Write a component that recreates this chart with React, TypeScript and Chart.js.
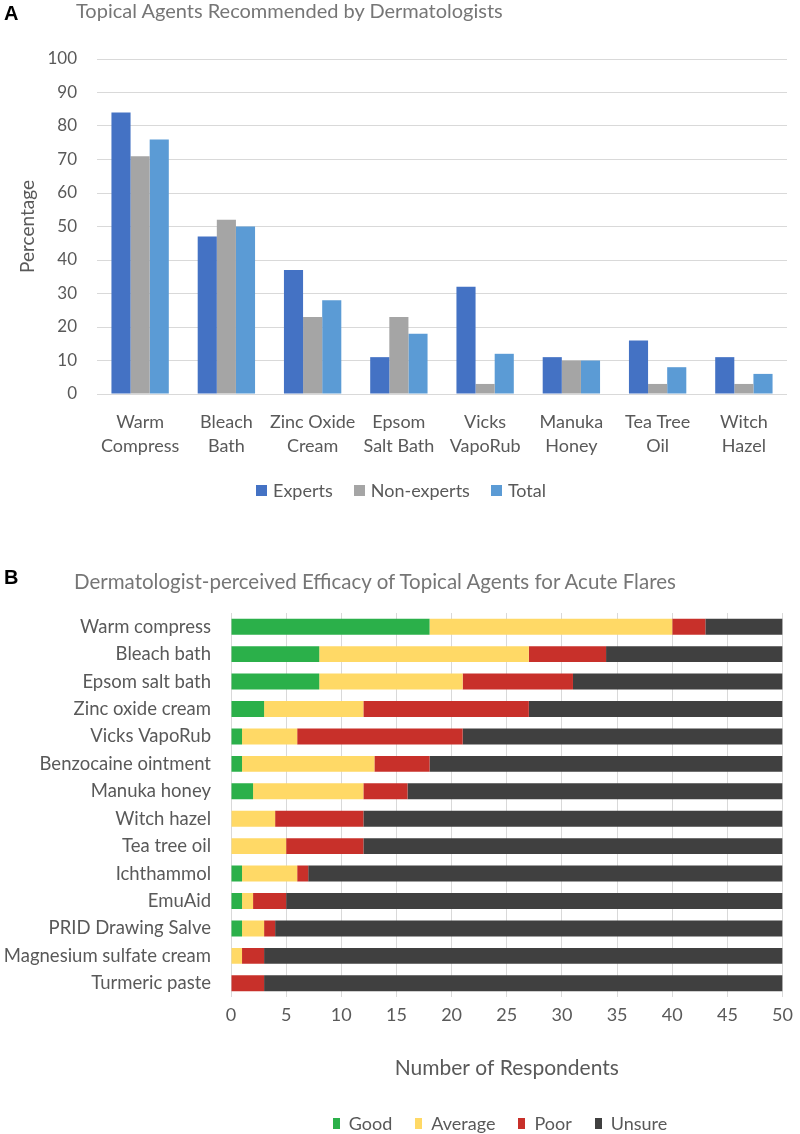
import React, { useEffect, useRef } from "react";
import { Chart, registerables } from "chart.js";

Chart.register(...registerables);

const FONT = "Lato, 'Open Sans', sans-serif";
const TEXT = "#595959";
const TITLE_COLOR = "#767676";
const GRID = "#d9d9d9";

// ---------- Panel A data ----------
const agentLabelsA: string[][] = [
  ["Warm", "Compress"],
  ["Bleach", "Bath"],
  ["Zinc Oxide", "Cream"],
  ["Epsom", "Salt Bath"],
  ["Vicks", "VapoRub"],
  ["Manuka", "Honey"],
  ["Tea Tree", "Oil"],
  ["Witch", "Hazel"],
];
const expertsPct = [84, 47, 37, 11, 32, 11, 16, 11];
const nonExpertsPct = [71, 52, 23, 23, 3, 10, 3, 3];
const totalPct = [76, 50, 28, 18, 12, 10, 8, 6];
const seriesNamesA = ["Experts", "Non-experts", "Total"];
const seriesColorsA = ["#4472C4", "#A5A5A5", "#5B9BD5"];
const yMinA = 0;
const yMaxA = 100;
const yStepA = 10;

// ---------- Panel B data ----------
const agentLabelsB = [
  "Warm compress",
  "Bleach bath",
  "Epsom salt bath",
  "Zinc oxide cream",
  "Vicks VapoRub",
  "Benzocaine ointment",
  "Manuka honey",
  "Witch hazel",
  "Tea tree oil",
  "Ichthammol",
  "EmuAid",
  "PRID Drawing Salve",
  "Magnesium sulfate cream",
  "Turmeric paste",
];
const goodCounts = [18, 8, 8, 3, 1, 1, 2, 0, 0, 1, 1, 1, 0, 0];
const averageCounts = [22, 19, 13, 9, 5, 12, 10, 4, 5, 5, 1, 2, 1, 0];
const poorCounts = [3, 7, 10, 15, 15, 5, 4, 8, 7, 1, 3, 1, 2, 3];
const unsureCounts = [7, 16, 19, 23, 29, 32, 34, 38, 38, 43, 45, 46, 47, 47];
const seriesNamesB = ["Good", "Average", "Poor", "Unsure"];
const seriesColorsB = ["#2BB04A", "#FFD966", "#C8302A", "#404040"];
const xMinB = 0;
const xMaxB = 50;
const xStepB = 5;

type LegendCfg = {
  cx: number;
  cy: number;
  boxW: number;
  boxH: number;
  gap: number;
  spacing: number;
  fontSize: number;
};

function legendPlugin(id: string, cfg: LegendCfg) {
  return {
    id,
    afterDraw(chart: any) {
      const ctx = chart.ctx as CanvasRenderingContext2D;
      const ds = chart.data.datasets;
      ctx.save();
      ctx.font = `${cfg.fontSize}px ${FONT}`;
      ctx.textBaseline = "middle";
      ctx.textAlign = "left";
      const widths = ds.map((d: any) => ctx.measureText(String(d.label)).width);
      const total =
        widths.reduce((s: number, w: number) => s + cfg.boxW + cfg.gap + w, 0) +
        cfg.spacing * (ds.length - 1);
      let x = cfg.cx - total / 2;
      ds.forEach((d: any, i: number) => {
        ctx.fillStyle = d.backgroundColor;
        ctx.fillRect(Math.round(x), Math.round(cfg.cy - cfg.boxH / 2), cfg.boxW, cfg.boxH);
        x += cfg.boxW + cfg.gap;
        ctx.fillStyle = TEXT;
        ctx.fillText(String(d.label), x, cfg.cy + 1);
        x += widths[i] + cfg.spacing;
      });
      ctx.restore();
    },
  };
}

export default function App() {
  const refA = useRef<HTMLCanvasElement>(null);
  const refB = useRef<HTMLCanvasElement>(null);

  useEffect(() => {
    const chartA = new Chart(refA.current!, {
      type: "bar",
      data: {
        labels: agentLabelsA,
        datasets: [expertsPct, nonExpertsPct, totalPct].map((d, i) => ({
          label: seriesNamesA[i],
          data: d,
          backgroundColor: seriesColorsA[i],
          borderWidth: 0,
          barPercentage: 1,
          categoryPercentage: 0.665,
        })),
      },
      options: {
        responsive: false,
        animation: false,
        events: [],
        layout: { padding: { top: 59, right: 13, bottom: 0, left: 0 } },
        plugins: {
          legend: { display: false },
          tooltip: { enabled: false },
          title: { display: false },
        },
        scales: {
          x: {
            grid: { display: false, drawTicks: false },
            border: { display: false },
            ticks: {
              color: TEXT,
              font: { family: FONT, size: 18, lineHeight: 1.33 },
              padding: 16,
              maxRotation: 0,
              autoSkip: false,
            },
            afterFit: (s: any) => {
              s.height = 126;
            },
          },
          y: {
            min: yMinA,
            max: yMaxA,
            ticks: {
              stepSize: yStepA,
              color: TEXT,
              font: { family: FONT, size: 17 },
              padding: 20,
            },
            grid: { color: GRID, lineWidth: 1, drawTicks: false },
            border: { display: false },
            title: {
              display: true,
              text: "Percentage",
              color: TEXT,
              font: { family: FONT, size: 19 },
              padding: { top: 16, bottom: 0 },
            },
            afterFit: (s: any) => {
              s.width = 97;
            },
          },
        },
      },
      plugins: [
        legendPlugin("legendA", {
          cx: 401,
          cy: 490,
          boxW: 11,
          boxH: 11,
          gap: 6,
          spacing: 21,
          fontSize: 18,
        }),
      ],
    } as any);

    const chartB = new Chart(refB.current!, {
      type: "bar",
      data: {
        labels: agentLabelsB,
        datasets: [goodCounts, averageCounts, poorCounts, unsureCounts].map((d, i) => ({
          label: seriesNamesB[i],
          data: d,
          backgroundColor: seriesColorsB[i],
          borderWidth: 0,
          barPercentage: 0.58,
          categoryPercentage: 1,
        })),
      },
      options: {
        indexAxis: "y",
        responsive: false,
        animation: false,
        events: [],
        layout: { padding: { top: 53, right: 11, bottom: 0, left: 0 } },
        plugins: {
          legend: { display: false },
          tooltip: { enabled: false },
          title: { display: false },
        },
        scales: {
          x: {
            stacked: true,
            min: xMinB,
            max: xMaxB,
            ticks: {
              stepSize: xStepB,
              color: TEXT,
              font: { family: FONT, size: 18 },
              padding: 7,
            },
            grid: { color: GRID, lineWidth: 1, drawTicks: false },
            border: { display: false },
            title: {
              display: true,
              text: "Number of Respondents",
              color: TEXT,
              font: { family: FONT, size: 21 },
              padding: { top: 0, bottom: 53 },
            },
            afterFit: (s: any) => {
              s.height = 137;
            },
          },
          y: {
            stacked: true,
            grid: { display: false, drawTicks: false },
            border: { display: false },
            ticks: {
              color: TEXT,
              font: { family: FONT, size: 18.5 },
              padding: 20,
              autoSkip: false,
            },
            afterFit: (s: any) => {
              s.width = 231;
            },
          },
        },
      },
      plugins: [
        legendPlugin("legendB", {
          cx: 500,
          cy: 563,
          boxW: 7,
          boxH: 11,
          gap: 9,
          spacing: 23,
          fontSize: 18,
        }),
      ],
    } as any);

    return () => {
      chartA.destroy();
      chartB.destroy();
    };
  }, []);

  return (
    <div
      style={{
        position: "absolute",
        left: 0,
        top: 0,
        width: 800,
        height: 1134,
        overflow: "hidden",
        background: "#fff",
      }}
    >
      <canvas ref={refA} width={800} height={520} style={{ position: "absolute", left: 0, top: 0 }} />
      <canvas ref={refB} width={800} height={574} style={{ position: "absolute", left: 0, top: 560 }} />
      <div
        style={{
          position: "absolute",
          left: 4,
          top: 3,
          font: "bold 20px 'Liberation Sans', Arial, sans-serif",
          lineHeight: "20px",
          color: "#000",
        }}
      >
        A
      </div>
      <div
        style={{
          position: "absolute",
          left: 76,
          top: 0,
          fontFamily: FONT,
          fontSize: 20,
          lineHeight: "20px",
          color: TITLE_COLOR,
          whiteSpace: "nowrap",
        }}
      >
        Topical Agents Recommended by Dermatologists
      </div>
      <div
        style={{
          position: "absolute",
          left: 4,
          top: 567,
          font: "bold 20px 'Liberation Sans', Arial, sans-serif",
          lineHeight: "20px",
          color: "#000",
        }}
      >
        B
      </div>
      <div
        style={{
          position: "absolute",
          left: 74,
          top: 571,
          fontFamily: FONT,
          fontSize: 20.5,
          lineHeight: "20px",
          color: TITLE_COLOR,
          whiteSpace: "nowrap",
        }}
      >
        Dermatologist-perceived Efficacy of Topical Agents for Acute Flares
      </div>
    </div>
  );
}
